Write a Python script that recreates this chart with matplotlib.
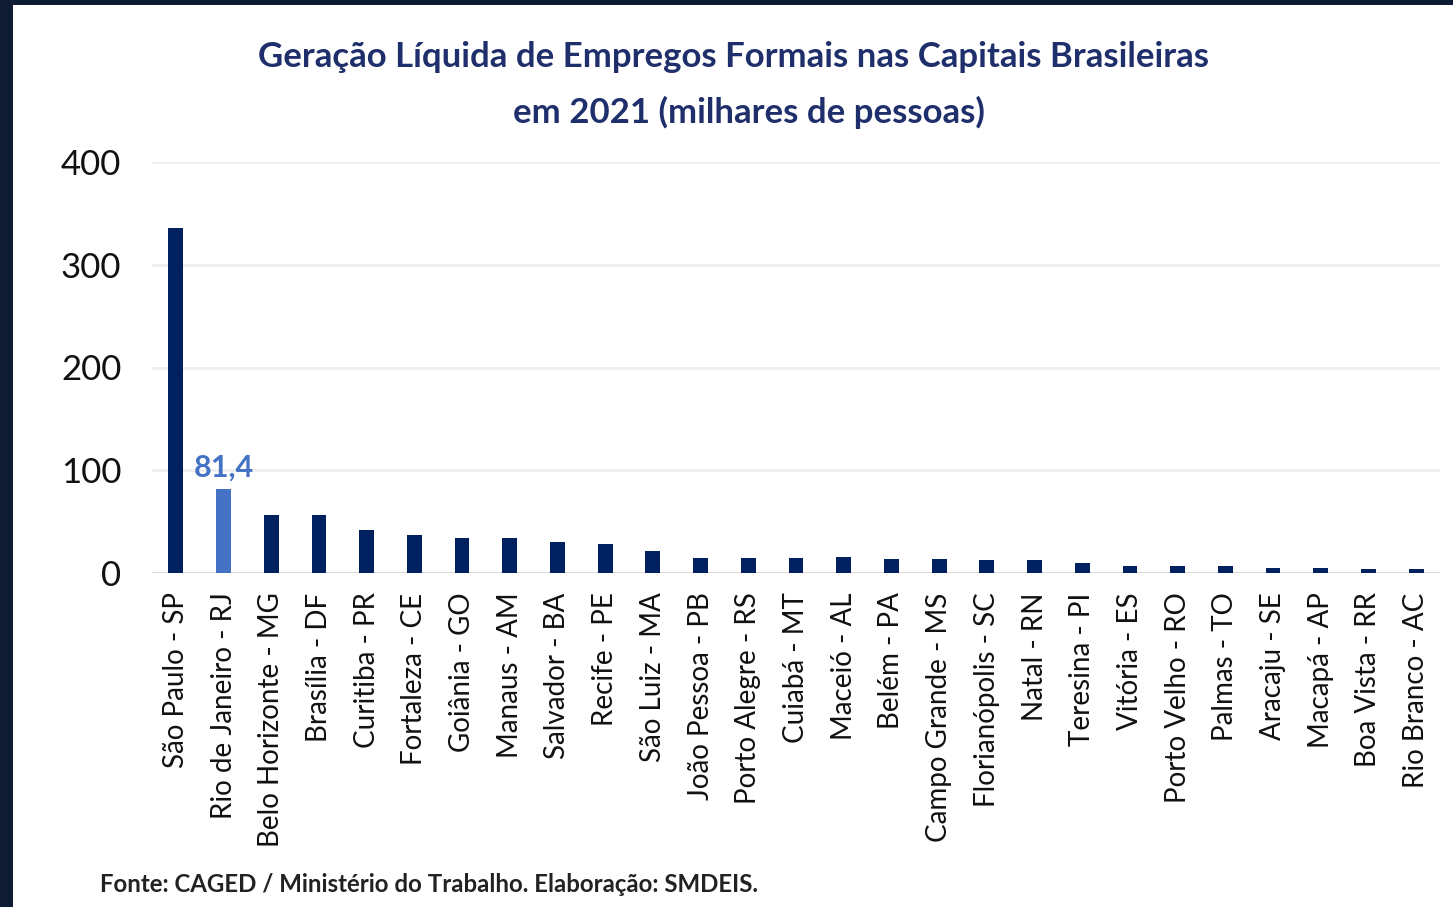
import matplotlib
matplotlib.use('Agg')
import matplotlib.pyplot as plt
from matplotlib.patches import Rectangle
import numpy as np

plt.rcParams['font.family'] = ['Lato', 'DejaVu Sans']

# capitais e saldo de empregos (milhares)
capitais = ['São Paulo - SP', 'Rio de Janeiro - RJ', 'Belo Horizonte - MG', 'Brasília - DF',
            'Curitiba - PR', 'Fortaleza - CE', 'Goiânia - GO', 'Manaus - AM', 'Salvador - BA',
            'Recife - PE', 'São Luiz - MA', 'João Pessoa - PB', 'Porto Alegre - RS', 'Cuiabá - MT',
            'Maceió - AL', 'Belém - PA', 'Campo Grande - MS', 'Florianópolis - SC', 'Natal - RN',
            'Teresina - PI', 'Vitória - ES', 'Porto Velho - RO', 'Palmas - TO', 'Aracaju - SE',
            'Macapá - AP', 'Boa Vista - RR', 'Rio Branco - AC']
saldo = [336, 81.4, 56, 56, 42, 37, 34, 34, 30.5, 28.5, 21, 15, 15, 15, 15.3, 13.5, 13.5,
         12.5, 12.5, 10, 7, 7, 7, 5, 5, 3.5, 3.5]
destaque = 'Rio de Janeiro - RJ'
yticks = [0, 100, 200, 300, 400]

azul_escuro = '#002060'
azul_claro = '#4472C4'

fig = plt.figure(figsize=(14.53, 9.07), dpi=100)
fig.patch.set_facecolor('#0F1B33')
fig.patches.append(Rectangle((13/1453, 0), 1 - 13/1453, 1 - 5/907, transform=fig.transFigure,
                             facecolor='white', edgecolor='none', zorder=-10))

ax = fig.add_axes([152/1453, 1 - 573/907, (1440 - 152)/1453, (573 - 162)/907])
ax.set_zorder(2)
ax.set_facecolor('none')

x = np.arange(len(capitais))
cores = [azul_claro if c == destaque else azul_escuro for c in capitais]
ax.bar(x, saldo, width=0.31, color=cores, zorder=3)

i = capitais.index(destaque)
ax.text(x[i], saldo[i] + 8, '81,4', ha='center', va='bottom', color=azul_claro,
        fontsize=22, fontweight='bold')

ax.set_xlim(-0.5, len(capitais) - 0.5)
ax.set_ylim(0, 400)
ax.set_yticks(yticks)
ax.set_yticklabels([str(v) for v in yticks], fontsize=25, color='#111111')
ax.set_xticks(x)
ax.set_xticklabels(capitais, rotation=90, fontsize=20, color='#111111')
ax.tick_params(axis='both', length=0)
ax.tick_params(axis='y', pad=22)
ax.tick_params(axis='x', pad=14)

ax.yaxis.grid(True, color='#EFEFEF', linewidth=2, zorder=0)
ax.axhline(0, color='#D9D9D9', linewidth=2, zorder=2)
for s in ax.spines.values():
    s.set_visible(False)

fig.text(733/1453, 1 - 57/907, 'Geração Líquida de Empregos Formais nas Capitais Brasileiras',
         ha='center', va='center', fontsize=25, fontweight='bold', color='#1F2F6B')
fig.text(749/1453, 1 - 112/907, 'em 2021 (milhares de pessoas)',
         ha='center', va='center', fontsize=25, fontweight='bold', color='#1F2F6B')

fig.text(100/1453, 1 - 884/907, 'Fonte: CAGED / Ministério do Trabalho. Elaboração: SMDEIS.',
         ha='left', va='center', fontsize=17.3, fontweight='bold', color='#222222')

fig.savefig('out.png', dpi=100, facecolor=fig.get_facecolor())
